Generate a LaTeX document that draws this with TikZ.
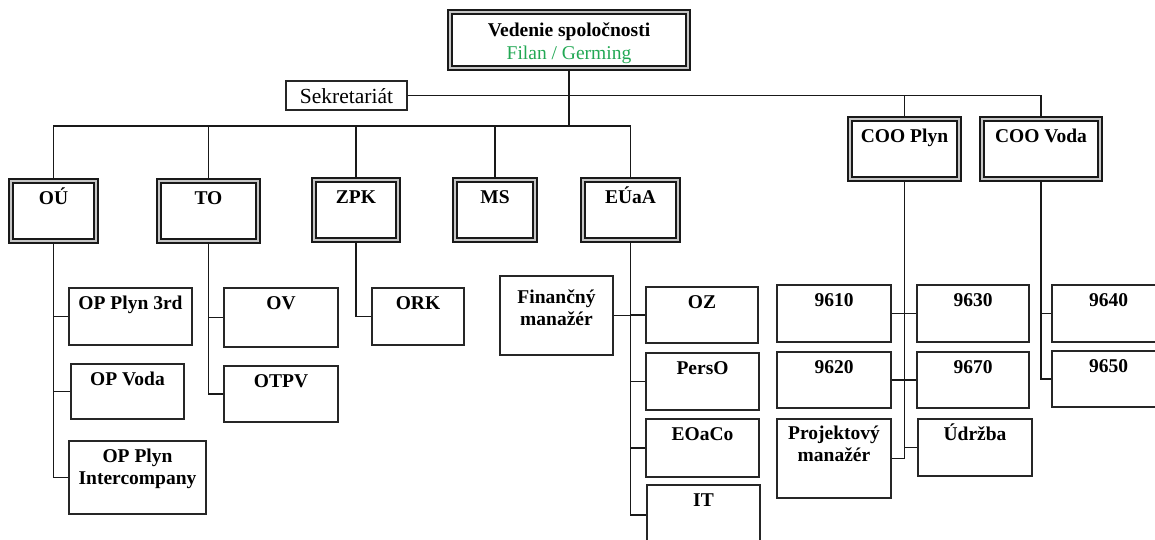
\documentclass[tikz,border=0pt]{standalone}
\usepackage{fontspec}
\setmainfont{Liberation Serif}
\definecolor{filan}{RGB}{34,168,84}
\newcommand{\orgfont}{\fontsize{19.5}{22.5}\selectfont}
\tikzset{
  pbox/.style={draw=black!85, line width=1.4pt, inner sep=0pt, font=\orgfont\bfseries},
  dbox/.style={draw=black!90, line width=1.6pt, double=gray!45, double distance=2.4pt, inner sep=0pt, font=\orgfont\bfseries},
  conn/.style={draw=black!90, line width=1.4pt},
}
% plain box: [baseline offset]{name}{x1}{y1}{x2}{y2}{text}
\newcommand{\pnode}[7][21]{%
  \pgfmathsetmacro\orgW{#5-#3}\pgfmathsetmacro\orgH{#6-#4}\pgfmathsetmacro\orgD{#6-#4-#1}%
  \pgfmathsetmacro\orgX{(#3+#5)/2}\pgfmathsetmacro\orgY{(#4+#6)/2}%
  \node[pbox, minimum width=\orgW pt, minimum height=\orgH pt, text height=#1pt, text depth=\orgD pt] (#2) at (\orgX,\orgY) {#7};}
% double box, outer extents given
\newcommand{\dnode}[7][23.7]{%
  \pgfmathsetmacro\orgW{#5-#3-5.6}\pgfmathsetmacro\orgH{#6-#4-5.6}\pgfmathsetmacro\orgD{#6-#4-5.6-#1}%
  \pgfmathsetmacro\orgX{(#3+#5)/2}\pgfmathsetmacro\orgY{(#4+#6)/2}%
  \node[dbox, minimum width=\orgW pt, minimum height=\orgH pt, text height=#1pt, text depth=\orgD pt] (#2) at (\orgX,\orgY) {#7};}
\newcommand{\twol}[2]{\begin{tabular}[t]{@{}c@{}}#1\\#2\end{tabular}}
\begin{document}
\begin{tikzpicture}[x=1pt,y=-1pt]
\useasboundingbox (0,0) rectangle (1155,540);
\clip (0,0) rectangle (1155,540);
% top level
\dnode[25.2]{top}{447}{9}{691}{71}{\twol{Vedenie spoločnosti}{\mdseries\color{filan}Filan / Germing}}
\pnode[23]{sek}{286}{81}{407}{110}{\mdseries\fontsize{21.5}{24}\selectfont Sekretariát}
% second level
\dnode{ou}{8}{178}{99}{244}{OÚ}
\dnode{to}{156}{178}{261}{244}{TO}
\dnode{zpk}{311}{177}{401}{243}{ZPK}
\dnode{ms}{452}{177}{538}{243}{MS}
\dnode{eu}{580}{177}{681}{243}{EÚaA}
\dnode{coop}{847}{116}{962}{182}{COO Plyn}
\dnode{coov}{979}{116}{1103}{182}{COO Voda}
% OU children
\pnode{opp3}{69}{288}{192}{345}{OP Plyn 3rd}
\pnode{opv}{71}{364}{184}{419}{OP Voda}
\pnode{opi}{69}{441}{206}{514}{\twol{OP Plyn}{Intercompany}}
% TO children
\pnode{ov}{224}{288}{338}{347}{OV}
\pnode{otpv}{224}{366}{338}{422}{OTPV}
% ZPK child
\pnode{ork}{372}{288}{464}{345}{ORK}
% EUaA children
\pnode[27]{fin}{500}{276}{613}{355}{\twol{Finančný}{manažér}}
\pnode{oz}{646}{287}{758}{343}{OZ}
\pnode{perso}{646}{353}{759}{410}{PersO}
\pnode{eoaco}{646}{419}{759}{477}{EOaCo}
\pnode{it}{647}{485}{760}{545}{IT}
% COO Plyn children
\pnode{n9610}{777}{285}{891}{342}{9610}
\pnode{n9630}{917}{285}{1029}{342}{9630}
\pnode{n9620}{777}{352}{891}{408}{9620}
\pnode{n9670}{917}{352}{1029}{408}{9670}
\pnode[20]{pm}{777}{419}{891}{498}{\twol{Projektový}{manažér}}
\pnode{udr}{918}{419}{1032}{476}{Údržba}
% COO Voda children
\pnode{n9640}{1052}{285}{1165}{342}{9640}
\pnode{n9650}{1052}{351}{1165}{407}{9650}
% connectors
\coordinate (busA) at (top.south |- 0,126);
\draw[conn] (top.south) -- (busA);
\draw[conn] (busA) -| (ou.north);
\draw[conn] (busA) -| (to.north);
\draw[conn] (busA) -| (zpk.north);
\draw[conn] (busA) -| (ms.north);
\draw[conn] (busA) -| (eu.north);
\draw[conn] (sek.east) -| (coop.north);
\draw[conn] (sek.east) -| (coov.north);
\draw[conn] (ou.south) |- (opp3.west);
\draw[conn] (ou.south) |- (opv.west);
\draw[conn] (ou.south) |- (opi.west);
\draw[conn] (to.south) |- (ov.west);
\draw[conn] (to.south) |- (otpv.west);
\draw[conn] (zpk.south) |- (ork.west);
\draw[conn] (eu.south) |- (oz.west);
\draw[conn] (eu.south) |- (perso.west);
\draw[conn] (eu.south) |- (eoaco.west);
\draw[conn] (eu.south) |- (it.west);
\draw[conn] (fin.east) -- (fin.east -| eu.south);
\draw[conn] (coop.south) |- (n9630.west);
\draw[conn] (coop.south) |- (n9670.west);
\draw[conn] (coop.south) |- (udr.west);
\draw[conn] (coop.south) |- (pm.east);
\draw[conn] (n9610.east) -- (n9610.east -| coop.south);
\draw[conn] (n9620.east) -- (n9620.east -| coop.south);
\draw[conn] (coov.south) |- (n9640.west);
\draw[conn] (coov.south) |- (n9650.west);
\end{tikzpicture}
\end{document}
